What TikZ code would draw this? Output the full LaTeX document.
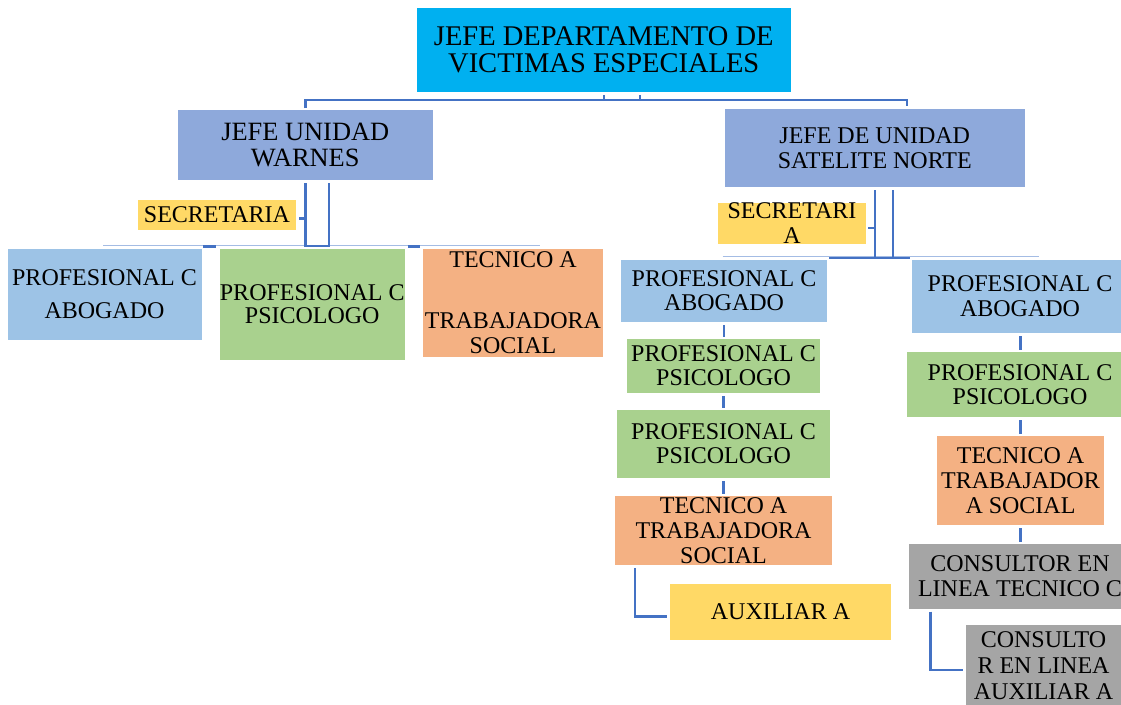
\documentclass[tikz,border=0pt]{standalone}
\usepackage{fontspec}
\setmainfont{Liberation Serif}
\usetikzlibrary{calc}
\definecolor{cTop}{HTML}{00B0F0}
\definecolor{cJefe}{HTML}{8EA9DB}
\definecolor{cAbog}{HTML}{9DC3E6}
\definecolor{cPsic}{HTML}{A9D18E}
\definecolor{cTec}{HTML}{F4B183}
\definecolor{cSec}{HTML}{FFD966}
\definecolor{cCons}{HTML}{A5A5A5}
\definecolor{cLine}{HTML}{4472C4}
\definecolor{cLight}{HTML}{A4BCE4}
\newcommand{\orgbox}[7]{\node[#6, minimum width={#4-#2}, minimum height={#5-#3}] (#1) at ({(#2+#4)/2},{(#3+#5)/2}) {#7};}
\begin{document}
\begin{tikzpicture}[x=1pt,y=-1pt,
  orgnode/.style={inner sep=0pt,outer sep=0pt,align=center,text=black,font=\fontsize{24}{24.5}\selectfont},
  lsp/.style={font=\fontsize{24}{#1}\selectfont},
  topbox/.style={orgnode,fill=cTop,font=\fontsize{28.5}{27.4}\selectfont},
  jefebox/.style={orgnode,fill=cJefe},
  abogbox/.style={orgnode,fill=cAbog},
  psicbox/.style={orgnode,fill=cPsic},
  tecbox/.style={orgnode,fill=cTec},
  secbox/.style={orgnode,fill=cSec},
  consbox/.style={orgnode,fill=cCons},
  conn/.style={draw=cLine,line width=2.5pt},
  thinconn/.style={draw=cLight,line width=1.1pt}]
\clip (0,0) rectangle (1121,704);
\fill[white] (0,0) rectangle (1121,704);

% ---------- boxes ----------
\orgbox{top}{417}{7.5}{790.5}{92}{topbox}{JEFE DEPARTAMENTO DE\\VICTIMAS ESPECIALES}
\orgbox{warnes}{178}{109.5}{432.5}{180}{jefebox,font=\fontsize{26.4}{25.7}\selectfont}{JEFE UNIDAD\\WARNES}
\orgbox{norte}{725}{109}{1024.5}{187}{jefebox,lsp=24.4}{JEFE DE UNIDAD\\SATELITE NORTE}

\orgbox{secw}{138}{199.5}{296}{229.5}{secbox}{SECRETARIA}
\orgbox{abogw}{7.5}{249}{201.5}{339.5}{abogbox,lsp=33}{PROFESIONAL C\\ABOGADO}
\orgbox{psicw}{219.5}{249}{405}{359.5}{psicbox,lsp=23.3}{PROFESIONAL C\\PSICOLOGO}
\orgbox{tecw}{423}{249}{603}{357}{tecbox,lsp=24}{TECNICO A\\[37pt]TRABAJADORA\\[1pt]SOCIAL}

\orgbox{secn}{718}{205}{866}{241.5}{secbox,lsp=25}{SECRETARI\\A}
\orgbox{abog1}{621}{260}{827}{322}{abogbox,lsp=24.3}{PROFESIONAL C\\ABOGADO}
\orgbox{psic1a}{627}{339}{820}{393}{psicbox,lsp=24.3}{PROFESIONAL C\\PSICOLOGO}
\orgbox{psic1b}{617}{410}{830}{478}{psicbox,lsp=24.3}{PROFESIONAL C\\PSICOLOGO}
\orgbox{tec1}{615}{496}{832}{565}{tecbox,lsp=25}{TECNICO A\\TRABAJADORA\\SOCIAL}
\orgbox{aux1}{670}{583.5}{891}{639.5}{secbox}{AUXILIAR A}

\orgbox{abog2}{912}{260}{1128}{333}{abogbox,lsp=25}{PROFESIONAL C\\ABOGADO}
\orgbox{psic2}{907}{352}{1133}{417}{psicbox,lsp=24}{PROFESIONAL C\\PSICOLOGO}
\orgbox{tec2}{937}{436}{1104}{525}{tecbox,lsp=25}{TECNICO A\\TRABAJADOR\\A SOCIAL}
\orgbox{cons1}{909}{543.5}{1131}{608.5}{consbox,lsp=25.5}{CONSULTOR EN\\LINEA TECNICO C}
\orgbox{cons2}{966}{625}{1121}{706}{consbox,lsp=26.3}{CONSULTO\\R EN LINEA\\AUXILIAR A}

% ---------- top connectors ----------
\coordinate (tA) at (604,100);
\coordinate (tB) at (640,100);
\coordinate (tR) at (907,100);
\draw[conn] ($(tA |- top.south)+(0,3)$) -- (tA) -- (tB) -- ($(tB |- top.south)+(0,3)$);
\draw[conn] ($(warnes.north)+(0,-1.5)$) -- (warnes.north |- tA) -- (tR) -- ($(tR |- norte.north)+(0,-3)$);

% ---------- Warnes connectors ----------
\coordinate (wl1) at (103,245.5);
\coordinate (wl2) at (540,245.5);
\coordinate (wv2) at (329,246);
\coordinate (ws1) at (203,246.5);
\coordinate (ws2) at (216,246.5);
\coordinate (ws3) at (408,246.5);
\coordinate (ws4) at (420,246.5);
\draw[thinconn] (wl1) -- (wl2);
\draw[conn] ($(warnes.south)+(0,3)$) -- (warnes.south |- wv2) -- (wv2) -- ($(wv2 |- warnes.south)+(0,3)$);
\draw[conn] ($(secw.east)+(3,4)$) -- ($(secw.east -| warnes.south)+(0,4)$);
\draw[conn] (ws1) -- (ws2);
\draw[conn] (ws3) -- (ws4);

% ---------- Satelite Norte connectors ----------
\coordinate (nl1) at (722.7,256.7);
\coordinate (nl2) at (1039,256.7);
\coordinate (nv2) at (893,258);
\coordinate (nh1) at (829,258);
\coordinate (nh2) at (910,258);
\draw[thinconn] (nl1) -- (nl2);
\draw[conn] ($(norte.south)+(0,3)$) -- (norte.south |- nv2);
\draw[conn] ($(nv2 |- norte.south)+(0,3)$) -- (nv2);
\draw[conn] (nh1) -- (nh2);
\draw[conn] ($(secn.east)+(2,4.5)$) -- ($(secn.east -| norte.south)+(0,4.5)$);

% ---------- column 1 ----------
\draw[conn] ($(abog1.south)+(0,3)$) -- ($(abog1.south |- psic1a.north)+(0,-2)$);
\draw[conn] ($(psic1a.south)+(0,3)$) -- ($(psic1a.south |- psic1b.north)+(0,-2)$);
\draw[conn] ($(psic1b.south)+(0,3)$) -- ($(psic1b.south |- tec1.north)+(0,-2)$);
\coordinate (e1) at (635,616.7);
\draw[conn] ($(e1 |- tec1.south)+(0,3)$) -- (e1) -- ($(aux1.west |- e1)+(-3,0)$);

% ---------- column 2 ----------
\draw[conn] ($(tec2.north |- abog2.south)+(0,3)$) -- ($(tec2.north |- psic2.north)+(0,-2)$);
\draw[conn] ($(tec2.north |- psic2.south)+(0,3)$) -- ($(tec2.north)+(0,-2)$);
\draw[conn] ($(tec2.south)+(0,3)$) -- ($(tec2.south |- cons1.north)+(0,-2)$);
\coordinate (e2) at (930.7,670);
\draw[conn] ($(e2 |- cons1.south)+(0,3)$) -- (e2) -- ($(cons2.west |- e2)+(-3,0)$);
\end{tikzpicture}
\end{document}
